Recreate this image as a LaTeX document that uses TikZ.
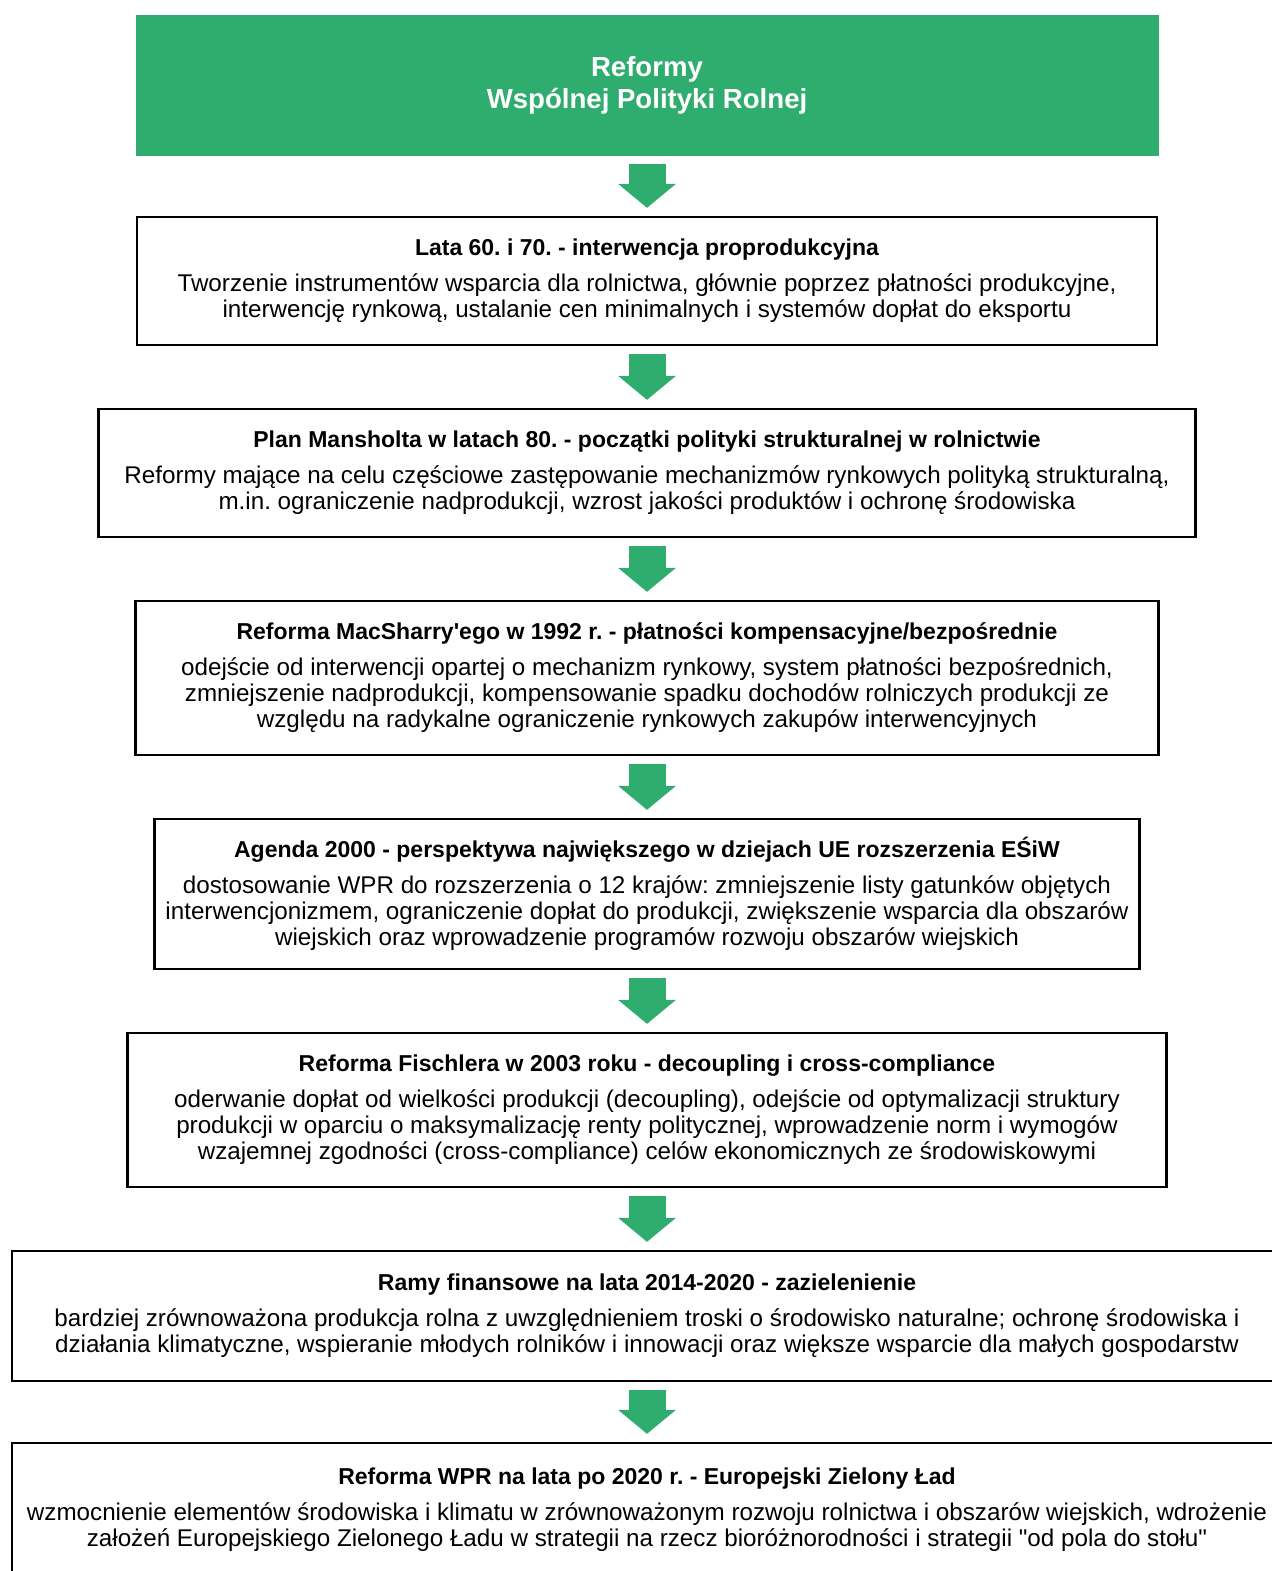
\documentclass[tikz,border=0pt]{standalone}
\usepackage{fontspec}
\setmainfont{Liberation Sans}
\usetikzlibrary{arrows.meta}

\definecolor{wprgreen}{HTML}{2EAD6F}
\newcommand{\stagehead}[1]{{\fontsize{11.5}{13}\selectfont\bfseries #1}\\[5pt]}
\frenchspacing

\begin{document}
\begin{tikzpicture}[
            x=0.5pt, y=-0.5pt,
            every node/.style={align=center, inner sep=0pt,
                font=\fontsize{12.1}{13}\selectfont},
            header/.style={fill=wprgreen, text=white,
                font=\fontsize{13.8}{16}\selectfont\bfseries,
                minimum width=511.5pt, minimum height=70.5pt},
            stage/.style={draw=black, line width=1.2pt},
            flow/.style={wprgreen, line width=18.5pt,
                -{Triangle[width=29pt, length=12pt, line width=0pt]},
                shorten <=4pt, shorten >=4pt}
            ]

            \useasboundingbox (0,0) rectangle (1271,1571);

            % title
            \node[header] (hdr) at (647, 85) {Reformy\\Wspólnej Polityki Rolnej};

            % stages
            \node[stage, minimum width=510pt, minimum height=64pt] (s1) at (647, 281)
                {\stagehead{Lata 60. i 70. - interwencja proprodukcyjna}
                Tworzenie instrumentów wsparcia dla rolnictwa, głównie poprzez płatności produkcyjne,\\
                interwencję rynkową, ustalanie cen minimalnych i systemów dopłat do eksportu};
            \node[stage, minimum width=548.5pt, minimum height=64pt] (s2) at (647, 473)
                {\stagehead{Plan Mansholta w latach 80. - początki polityki strukturalnej w rolnictwie}
                Reformy mające na celu częściowe zastępowanie mechanizmów rynkowych polityką strukturalną,\\
                m.in. ograniczenie nadprodukcji, wzrost jakości produktów i ochronę środowiska};
            \node[stage, minimum width=511.5pt, minimum height=77pt] (s3) at (647, 678)
                {\stagehead{Reforma MacSharry\textquotesingle ego w 1992 r. - płatności kompensacyjne/bezpośrednie}
                odejście od interwencji opartej o mechanizm rynkowy, system płatności bezpośrednich,\\
                zmniejszenie nadprodukcji, kompensowanie spadku dochodów rolniczych produkcji ze\\
                względu na radykalne ograniczenie rynkowych zakupów interwencyjnych};
            \node[stage, minimum width=492.5pt, minimum height=75pt] (s4) at (647, 894)
                {\stagehead{Agenda 2000 - perspektywa największego w dziejach UE rozszerzenia EŚiW}
                dostosowanie WPR do rozszerzenia o 12 krajów: zmniejszenie listy gatunków objętych\\
                interwencjonizmem, ograniczenie dopłat do produkcji, zwiększenie wsparcia dla obszarów\\
                wiejskich oraz wprowadzenie programów rozwoju obszarów wiejskich};
            \node[stage, minimum width=519.5pt, minimum height=77pt] (s5) at (647, 1110)
                {\stagehead{Reforma Fischlera w 2003 roku - decoupling i cross-compliance}
                oderwanie dopłat od wielkości produkcji (decoupling), odejście od optymalizacji struktury\\
                produkcji w oparciu o maksymalizację renty politycznej, wprowadzenie norm i wymogów\\
                wzajemnej zgodności (cross-compliance) celów ekonomicznych ze środowiskowymi};
            \node[stage, minimum width=635pt, minimum height=65pt] (s6) at (647, 1316)
                {\stagehead{Ramy finansowe na lata 2014-2020 - zazielenienie}
                bardziej zrównoważona produkcja rolna z uwzględnieniem troski o środowisko naturalne; ochronę środowiska i\\
                działania klimatyczne, wspieranie młodych rolników i innowacji oraz większe wsparcie dla małych gospodarstw};
            \node[stage, minimum width=635pt, minimum height=67pt] (s7) at (647, 1510)
                {\stagehead{Reforma WPR na lata po 2020 r. - Europejski Zielony Ład}
                wzmocnienie elementów środowiska i klimatu w zrównoważonym rozwoju rolnictwa i obszarów wiejskich, wdrożenie\\
                założeń Europejskiego Zielonego Ładu w strategii na rzecz bioróżnorodności i strategii \textquotedbl od pola do stołu\textquotedbl};

            % arrows
            \draw[flow] (hdr) -- (s1);
            \draw[flow] (s1) -- (s2);
            \draw[flow] (s2) -- (s3);
            \draw[flow] (s3) -- (s4);
            \draw[flow] (s4) -- (s5);
            \draw[flow] (s5) -- (s6);
            \draw[flow] (s6) -- (s7);

        \end{tikzpicture}
\end{document}
